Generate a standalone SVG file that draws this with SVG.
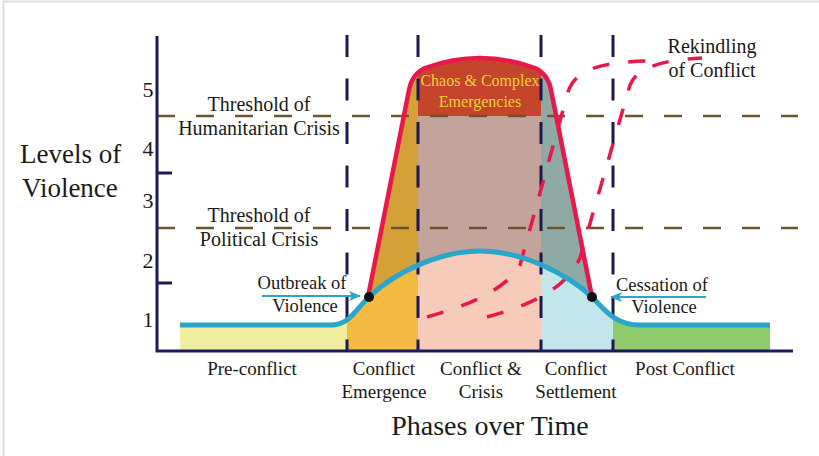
<svg xmlns="http://www.w3.org/2000/svg" width="819" height="456" viewBox="0 0 819 456">
<style>
text{font-family:"Liberation Serif","Times New Roman",serif;fill:#1a1a1a}
.num{font-size:22px;text-anchor:middle}
.ax{font-size:27px}
.thr{font-size:20px;text-anchor:middle}
.ph{font-size:19px;text-anchor:middle}
.ann{font-size:18.5px;text-anchor:middle}
.hd{fill:none;stroke:#6b5530;stroke-width:2.5;stroke-dasharray:18 21}
.vd{fill:none;stroke:#1b1950;stroke-width:3;stroke-dasharray:22 21.5}
.rd{fill:none;stroke:#e8194a;stroke-width:3.5;stroke-dasharray:17 19}
.axis{stroke:#1c1a5a;stroke-width:3;fill:none}
.arr{stroke:#2ba6cb;stroke-width:2}
</style>
<defs>
<clipPath id="trap"><path d="M368,297 L409,90 Q412,74 425,68 Q480,48 535,68 Q548,74 551,90 L592,297 Z"/></clipPath>
<clipPath id="under"><path d="M180,325 L330,325 C350,325 355,310 369,297 C395,272 440,251 480,251 C520,251 565,272 592,297 C605,310 615,325 640,325 L770,325 L770,351 L180,351 Z"/></clipPath>
<marker id="ah" viewBox="0 0 12 10" refX="11" refY="5" markerWidth="12" markerHeight="10" markerUnits="userSpaceOnUse" orient="auto"><path d="M0,0 L12,5 L0,10 L3,5 Z" fill="#2ba6cb"/></marker>
</defs>
<rect width="819" height="456" fill="#fff"/>
<path d="M3.5,456 V1.5 H819" fill="none" stroke="#dedede" stroke-width="2"/>
<g id="upper-fills" clip-path="url(#trap)">
<rect x="360" y="40" width="58" height="260" fill="#d4a038"/>
<rect x="418" y="40" width="123" height="260" fill="#c2a49b"/>
<rect x="541" y="40" width="60" height="260" fill="#8fa9a4"/>
<rect x="418" y="40" width="123" height="76" fill="#c4452b"/>
</g>
<g id="lower-fills" clip-path="url(#under)">
<rect x="180" y="240" width="167" height="112" fill="#f0ee9e"/>
<rect x="347" y="240" width="71" height="112" fill="#f3b941"/>
<rect x="418" y="240" width="123" height="112" fill="#f7cbb9"/>
<rect x="541" y="240" width="72" height="112" fill="#c3e6ed"/>
<rect x="613" y="240" width="157" height="112" fill="#8ecb6c"/>
</g>
<g id="thresholds">
<line class="hd" x1="157" y1="116" x2="798" y2="116"/>
<line class="hd" x1="157" y1="228" x2="798" y2="228"/>
</g>
<g id="phase-dividers">
<line class="vd" x1="347" y1="35" x2="347" y2="351"/>
<line class="vd" x1="418" y1="35" x2="418" y2="351"/>
<line class="vd" x1="541" y1="35" x2="541" y2="351"/>
<line class="vd" x1="613" y1="35" x2="613" y2="351"/>
</g>
<g id="connectors">
<path class="rd" d="M427,317 C470,305 505,290 520,265 L568,92 C575,70 600,62 647,61"/>
<path class="rd" d="M487,317 C530,305 565,290 580,258 L630,85 C637,68 660,60 702,58"/>
<path d="M368,297 L409,90 Q412,74 425,68 Q480,48 535,68 Q548,74 551,90 L592,297" fill="none" stroke="#e8194a" stroke-width="4.5" stroke-linejoin="round"/>
<path d="M180,325 L330,325 C350,325 355,310 369,297 C395,272 440,251 480,251 C520,251 565,272 592,297 C605,310 615,325 640,325 L770,325" fill="none" stroke="#2ba6cb" stroke-width="5"/>
<line class="arr" x1="262" y1="296" x2="360" y2="296" marker-end="url(#ah)"/>
<line class="arr" x1="706" y1="297" x2="611" y2="297" marker-end="url(#ah)"/>
</g>
<circle cx="369" cy="297" r="5" fill="#111"/>
<circle cx="592" cy="297" r="5" fill="#111"/>
<g id="axes">
<path class="axis" d="M157,36 V351 H793"/>
<line class="axis" x1="157" y1="173" x2="172" y2="173"/>
<line class="axis" x1="157" y1="283" x2="172" y2="283"/>
<text class="num" x="148" y="97">5</text>
<text class="num" x="148" y="156">4</text>
<text class="num" x="148" y="208">3</text>
<text class="num" x="148" y="268">2</text>
<text class="num" x="148" y="327">1</text>
<text class="ax" x="20" y="163">Levels of</text>
<text class="ax" x="22" y="197">Violence</text>
<text class="ax" x="490" y="435" text-anchor="middle" style="font-size:28px">Phases over Time</text>
</g>
<g id="threshold-labels">
<text class="thr" x="259" y="111">Threshold of</text>
<text class="thr" x="259" y="135">Humanitarian Crisis</text>
<text class="thr" x="259" y="222">Threshold of</text>
<text class="thr" x="259" y="246">Political Crisis</text>
</g>
<g id="chaos">
<text x="480" y="86" text-anchor="middle" style="font-size:16px;fill:#f2cf3a">Chaos &amp; Complex</text>
<text x="480" y="107" text-anchor="middle" style="font-size:16px;fill:#f2cf3a">Emergencies</text>
</g>
<g id="phase-labels">
<text class="ph" x="252" y="375">Pre-conflict</text>
<text class="ph" x="384" y="375">Conflict</text>
<text class="ph" x="384" y="398">Emergence</text>
<text class="ph" x="481" y="375">Conflict &amp;</text>
<text class="ph" x="481" y="398">Crisis</text>
<text class="ph" x="576" y="375">Conflict</text>
<text class="ph" x="576" y="398">Settlement</text>
<text class="ph" x="685" y="375">Post Conflict</text>
</g>
<g id="annotations">
<text class="ann" x="302" y="289">Outbreak of</text>
<text class="ann" x="305" y="312">Violence</text>
<text class="ann" x="662" y="291">Cessation of</text>
<text class="ann" x="664" y="313">Violence</text>
<text class="thr" x="712" y="53">Rekindling</text>
<text class="thr" x="712" y="77">of Conflict</text>
</g>
</svg>
